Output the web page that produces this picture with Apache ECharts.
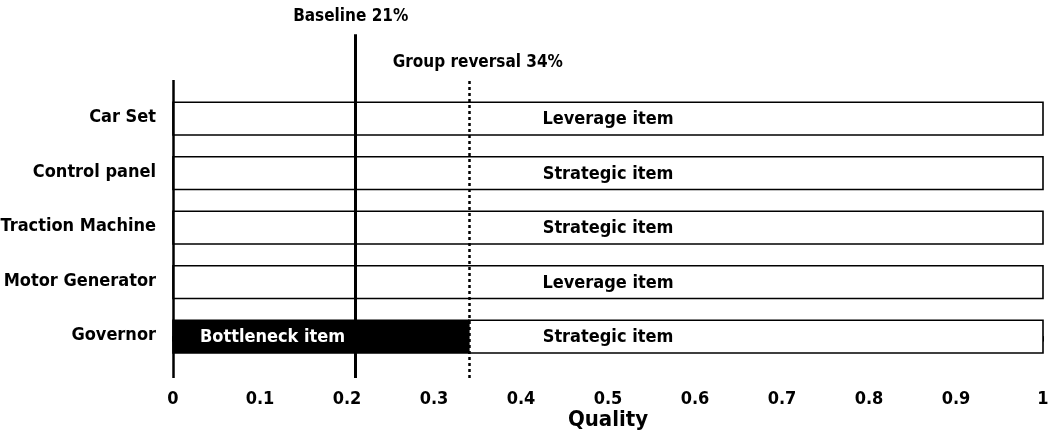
<!DOCTYPE html>
<html>
<head>
<meta charset="utf-8">
<script src="https://cdn.jsdelivr.net/npm/echarts@6/dist/echarts.min.js"></script>
<style>
  html, body { margin: 0; padding: 0; background: #fff; }
  #chart { width: 1055px; height: 443px; }
</style>
</head>
<body>
<div id="chart"></div>
<script>
// Components, listed top to bottom
const categories = ['Car Set', 'Control panel', 'Traction Machine', 'Motor Generator', 'Governor'];
// Classification of the quality share beyond the reversal point
const itemTypes = ['Leverage item', 'Strategic item', 'Strategic item', 'Leverage item', 'Strategic item'];
// Share of each bar that falls in the bottleneck zone (0 = none)
const bottleneckShare = [0, 0, 0, 0, 0.34];
const bottleneckLabel = 'Bottleneck item';
// Full extent of every bar on the quality scale
const barEnd = 1;
// Reference thresholds
const baseline = 0.21;
const groupReversal = 0.34;
const baselineLabel = 'Baseline 21%';
const reversalLabel = 'Group reversal 34%';
const xAxisName = 'Quality';

const FONT = '"DejaVu Sans Condensed", "DejaVu Sans"';
const n = categories.length;

// segments: [start, end, row, text, dark]
const segments = [];
categories.forEach(function (c, i) {
  const row = n - 1 - i;
  const b = bottleneckShare[i];
  if (b > 0) {
    segments.push([0, b, row, bottleneckLabel, 1]);
    segments.push([b, barEnd, row, itemTypes[i], 0]);
  } else {
    segments.push([0, barEnd, row, itemTypes[i], 0]);
  }
});
const rowLabels = categories.map(function (c, i) { return [0, n - 1 - i, c]; });

const yMin = -0.76;
const yMax = 5.81;
const frameTop = 4.71;   // upper end of the vertical axis and the reversal line
const baselineTop = 5.55;

const chart = echarts.init(document.getElementById('chart'));

chart.setOption({
  backgroundColor: '#fff',
  animation: false,
  grid: { left: 173, right: 12, top: 20, bottom: 65 },
  xAxis: {
    type: 'value',
    min: 0,
    max: 1,
    interval: 0.1,
    name: xAxisName,
    nameLocation: 'middle',
    nameGap: 31,
    nameMoveOverlap: false,
    nameTextStyle: { fontFamily: FONT, fontWeight: 'bold', fontSize: 22, color: '#000' },
    splitLine: { show: false },
    axisLine: { lineStyle: { color: '#000', width: 2 } },
    axisTick: { length: 5, lineStyle: { color: '#000', width: 2 } },
    axisLabel: { margin: 12, fontFamily: FONT, fontWeight: 'bold', fontSize: 18, color: '#000' }
  },
  yAxis: {
    type: 'value',
    min: yMin,
    max: yMax,
    show: false
  },
  series: [
    {
      type: 'custom',
      data: segments,
      renderItem: function (params, api) {
        const s = api.value(0), e = api.value(1), row = api.value(2);
        const dark = api.value(4) === 1;
        const p0 = api.coord([s, row]);
        const p1 = api.coord([e, row]);
        const h = api.size([0, 1])[1] * 0.6;
        const text = segments[params.dataIndex][3];
        let tx, align;
        if (dark) {
          tx = p0[0] + 27; align = 'left';
        } else {
          tx = api.coord([(0 + barEnd) / 2, row])[0]; align = 'center';
        }
        return {
          type: 'group',
          children: [
            {
              type: 'rect',
              shape: { x: p0[0], y: p0[1] - h / 2, width: p1[0] - p0[0], height: h },
              style: { fill: dark ? '#000' : '#fff', stroke: '#000', lineWidth: 1.6 }
            },
            {
              type: 'text',
              x: tx, y: p0[1] + 1,
              style: {
                text: text, align: align, verticalAlign: 'middle',
                fill: dark ? '#fff' : '#000',
                font: 'bold 18px ' + FONT
              }
            }
          ]
        };
      },
      markLine: {
        silent: true,
        symbol: ['none', 'none'],
        animation: false,
        data: [
          // vertical axis line
          [
            { coord: [0, yMin], lineStyle: { color: '#000', width: 2.5, type: 'solid' }, label: { show: false } },
            { coord: [0, frameTop] }
          ],
          // short extension of the horizontal axis to the left
          [
            { coord: [-0.0115, yMin], lineStyle: { color: '#000', width: 2, type: 'solid' }, label: { show: false } },
            { coord: [0, yMin] }
          ],
          [
            {
              coord: [baseline, yMin],
              lineStyle: { color: '#000', width: 3, type: 'solid' },
              label: {
                show: true, position: 'end', formatter: baselineLabel, distance: 9, offset: [-5, 0],
                fontFamily: FONT, fontWeight: 'bold', fontSize: 17, color: '#000'
              }
            },
            { coord: [baseline, baselineTop] }
          ],
          [
            {
              coord: [groupReversal, yMin],
              lineStyle: { color: '#000', width: 2.5, type: [3, 3] },
              label: {
                show: true, position: 'end', formatter: reversalLabel, distance: 9, offset: [9, 0],
                fontFamily: FONT, fontWeight: 'bold', fontSize: 17, color: '#000'
              }
            },
            { coord: [groupReversal, frameTop] }
          ]
        ]
      }
    },
    {
      type: 'custom',
      data: rowLabels,
      renderItem: function (params, api) {
        const p = api.coord([api.value(0), api.value(1)]);
        return {
          type: 'text',
          x: p[0] - 17, y: p[1] - 1,
          style: {
            text: rowLabels[params.dataIndex][2], align: 'right', verticalAlign: 'middle',
            fill: '#000', font: 'bold 18px ' + FONT
          }
        };
      }
    }
  ]
});
</script>
</body>
</html>
